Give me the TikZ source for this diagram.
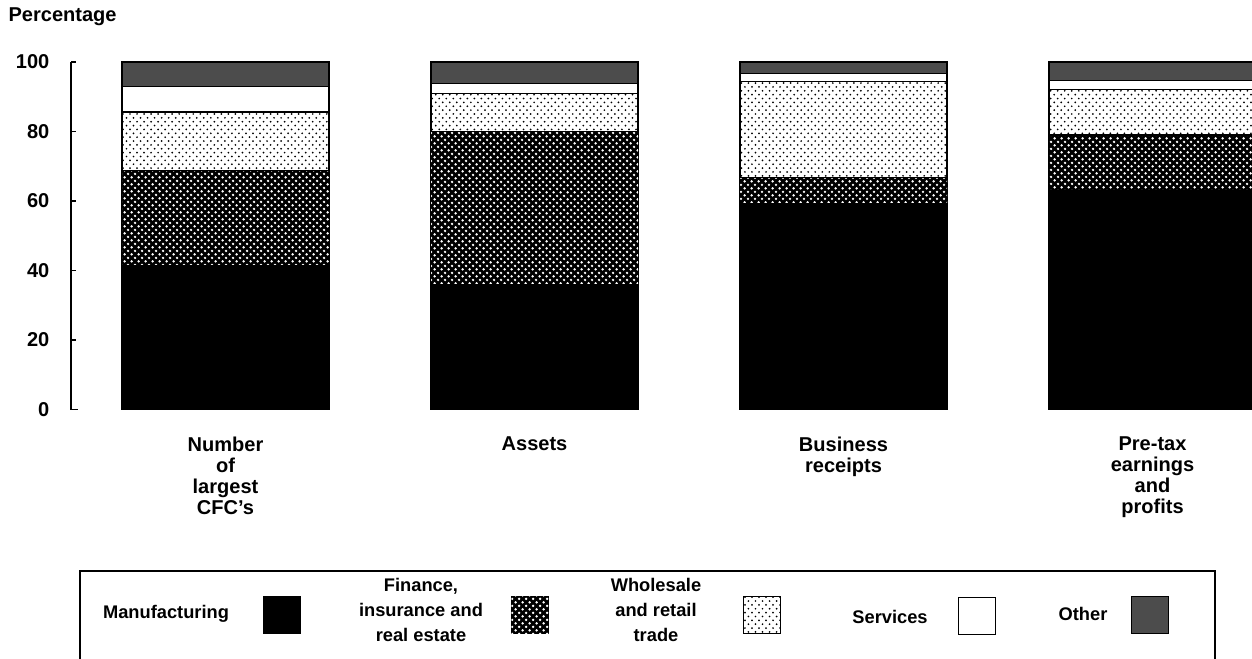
\documentclass[tikz,border=0pt]{standalone}
\usepackage{fontspec}
\setmainfont{Liberation Sans}
\usetikzlibrary{patterns}

\pgfdeclarepatternformonly{whitedots}{\pgfqpoint{-1pt}{-1pt}}{\pgfqpoint{3.2pt}{3.2pt}}{\pgfqpoint{4.2pt}{4.2pt}}
{\pgfpathcircle{\pgfqpoint{0pt}{0pt}}{.8pt}\pgfpathcircle{\pgfqpoint{2.1pt}{2.1pt}}{.8pt}\pgfusepath{fill}}
\pgfdeclarepatternformonly{sparsedots}{\pgfqpoint{-1pt}{-1pt}}{\pgfqpoint{3pt}{3.4pt}}{\pgfqpoint{4pt}{4.4pt}}
{\pgfpathcircle{\pgfqpoint{0pt}{0pt}}{.55pt}\pgfpathcircle{\pgfqpoint{2pt}{2.2pt}}{.55pt}\pgfusepath{fill}}

\begin{document}
\begin{tikzpicture}[x=0.02cm,y=-0.02cm,line width=0.7pt,
    every node/.style={font=\bfseries\fontsize{11.4}{12}\selectfont,inner sep=0pt,align=center},
    mfgfill/.style={fill=black,draw=black},
    finfill/.style={fill=black,draw=black,postaction={pattern=whitedots,pattern color=white}},
    whlfill/.style={draw=black,pattern=sparsedots,pattern color=black},
    srvfill/.style={fill=white,draw=black},
    othfill/.style={fill=black!70,draw=black},
    keybox/.style={minimum width=0.75cm,minimum height=0.75cm},
    keytext/.style={font=\bfseries\fontsize{10.4}{14}\selectfont}]
  \useasboundingbox (0,0) rectangle (1252,659);

  % axis
  \node[anchor=west] (ylab) at (8,17) {Percentage};
  \draw (71,62) -- (71,409.5) -- (78,409.5);
  \foreach \v in {0,20,...,100}{
    \draw (71,{409.5-3.475*\v}) -- (76,{409.5-3.475*\v});
    \node[anchor=east] (tick\v) at (50,{409.5-3.475*\v}) {\v};
  }

  % stacked bars
  \foreach \bx/\vm/\vf/\vw/\vs in {122/41.6/68.8/85.6/92.9, 431/36.3/79.9/91.0/93.9,
                                   740/59.5/66.8/94.3/96.7, 1049/63.2/79.0/92.1/94.6}{
    \path[mfgfill] (\bx,409.5) rectangle ({\bx+207},{409.5-3.475*\vm});
    \path[finfill] (\bx,{409.5-3.475*\vm}) rectangle ({\bx+207},{409.5-3.475*\vf});
    \path[whlfill] (\bx,{409.5-3.475*\vf}) rectangle ({\bx+207},{409.5-3.475*\vw});
    \path[srvfill] (\bx,{409.5-3.475*\vw}) rectangle ({\bx+207},{409.5-3.475*\vs});
    \path[othfill] (\bx,{409.5-3.475*\vs}) rectangle ({\bx+207},62);
  }

  \node[anchor=north] (catnum) at (225.5,436) {Number\\of\\largest\\CFC's};
  \node[anchor=north] (catass) at (534.5,436) {Assets};
  \node[anchor=north] (catbus) at (843.5,436) {Business\\receipts};
  \node[anchor=north] (catpre) at (1152.5,436) {Pre-tax\\earnings\\and\\profits};

  % legend
  \draw (80,700) -- (80,571) -- (1215,571) -- (1215,700);
  \node[keytext] (lmfg) at (166,614) {Manufacturing};
  \node[keybox,mfgfill] (kmfg) at (282,615) {};
  \node[keytext] (lfin) at (421,610) {Finance,\\insurance and\\real estate};
  \node[keybox,finfill] (kfin) at (530,615) {};
  \node[keytext] (lwhl) at (656,610) {Wholesale\\and retail\\trade};
  \node[keybox,whlfill] (kwhl) at (762,615) {};
  \node[keytext] (lsrv) at (890,617) {Services};
  \node[keybox,srvfill] (ksrv) at (977,616) {};
  \node[keytext] (loth) at (1083,614) {Other};
  \node[keybox,othfill] (koth) at (1150,615) {};
\end{tikzpicture}
\end{document}
